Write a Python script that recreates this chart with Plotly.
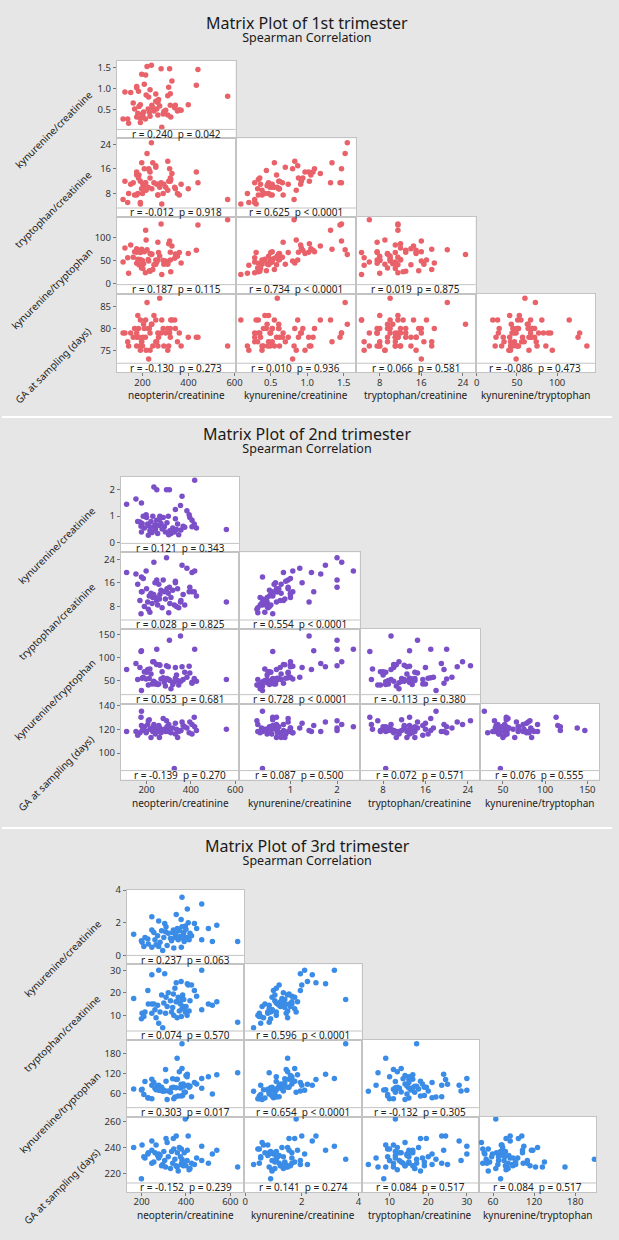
import plotly.graph_objects as go

W, H = 619, 1240
FONT = "Noto Sans"

# ---------------- data ----------------
row_titles = ["kynurenine/creatinine", "tryptophan/creatinine",
              "kynurenine/tryptophan", "GA at sampling (days)"]
col_titles = ["neopterin/creatinine", "kynurenine/creatinine",
              "tryptophan/creatinine", "kynurenine/tryptophan"]

# 1st trimester
t1_neo = [124, 149, 175, 183, 220, 239, 197, 214, 208, 175,
          258, 233, 281, 318, 328, 314, 310, 321, 441, 434,
          570, 116, 136, 160, 166, 180, 191, 191, 191, 200,
          202, 225, 227, 233, 241, 250, 258, 267, 275, 284,
          293, 301, 310, 321, 343, 352, 368, 399, 323, 175,
          213, 267, 216, 245, 205, 185, 290, 262, 340, 196,
          270, 230, 140, 360]
t1_kyn = [0.92, 0.91, 1.02, 0.94, 1.52, 1.55, 1.34, 1.32, 1.10, 1.05,
          0.87, 0.97, 1.47, 1.47, 1.18, 1.03, 0.83, 0.88, 1.45, 1.08,
          0.82, 0.28, 0.28, 0.66, 0.52, 0.42, 0.62, 0.30, 0.20, 0.40,
          0.36, 0.52, 0.80, 0.35, 0.61, 0.47, 0.70, 0.38, 0.59, 0.09,
          0.46, 0.49, 0.38, 0.61, 0.61, 0.47, 0.49, 0.62, 0.33, 0.33,
          0.28, 0.67, 0.85, 0.55, 0.45, 0.58, 0.40, 0.52, 0.55, 0.32,
          0.74, 0.44, 0.18, 0.50]
t1_trp = [12, 11, 15, 13, 21, 24.5, 18, 11.5, 16, 14,
          17, 15, 11.5, 16, 14.5, 12, 18.5, 13, 11.5, 15,
          6, 6, 5, 11.5, 7.5, 8, 12, 4.5, 5, 8,
          11, 10, 16, 13, 9.5, 11.5, 16.5, 7.5, 10, 4.5,
          11, 10, 9, 12, 9.5, 8, 11, 9.5, 12.5, 7.5,
          11.5, 7.5, 9, 18, 10.5, 14, 8, 11, 10, 9.5,
          11, 15.5, 8, 7.5]
t1_kt = [77, 83, 68, 72, 73, 63, 74, 115, 69, 75,
         51, 65, 128, 92, 81, 86, 45, 68, 126, 72,
         137, 47, 56, 57, 69, 53, 52, 67, 40, 50,
         33, 52, 49, 27, 64, 41, 42, 51, 60, 20,
         42, 49, 42, 51, 64, 59, 45, 65, 26, 44,
         24, 89, 94, 31, 43, 41, 50, 47, 55, 34,
         67, 28, 23, 67]
t1_ga = [79, 79, 78, 80, 86, 81, 77, 82, 80, 76,
         82, 75, 79, 79, 82, 76, 80, 78, 78, 78,
         76, 79, 77, 78, 80, 83, 76, 82, 75, 76,
         78, 80, 73, 79, 81, 83, 77, 76, 87, 82,
         76, 79, 75, 80, 80, 77, 76, 78, 82, 79,
         78, 79, 75, 76, 81, 78, 80, 77, 82, 77,
         78, 80, 76, 79]

# 2nd trimester
t2_neo = [417, 233, 246, 290, 303, 360, 152, 177, 110, 353,
          330, 382, 392, 405, 405, 560, 325, 170, 180, 190,
          177, 200, 205, 212, 215, 220, 225, 228, 232, 238,
          240, 245, 250, 255, 260, 265, 270, 275, 280, 285,
          292, 298, 305, 310, 318, 330, 335, 340, 345, 355,
          365, 372, 395, 415, 425, 185, 160, 175, 208, 300,
          258, 198]
t2_kyn = [2.35, 2.10, 2.00, 2.00, 2.00, 1.75, 1.65, 1.50, 1.45, 1.40,
          1.25, 1.20, 1.05, 0.85, 0.60, 0.50, 0.40, 0.78, 0.72, 0.55,
          0.40, 0.95, 0.70, 0.62, 0.45, 0.80, 0.38, 1.00, 0.58, 0.68,
          0.50, 0.85, 0.35, 0.65, 1.00, 0.72, 0.52, 0.95, 0.60, 0.40,
          0.75, 1.00, 0.45, 0.35, 0.55, 0.90, 0.50, 0.70, 0.30, 0.48,
          0.62, 0.58, 0.95, 0.70, 0.55, 1.00, 0.80, 0.62, 0.28, 0.30,
          0.88, 1.05]
t2_trp = [20, 23, 17, 24.5, 14.5, 22, 19, 13, 19.5, 9.5,
          16, 21, 13, 19.5, 13, 9.5, 8.5, 10, 13, 8,
          18, 14, 9.5, 11.5, 6, 12.5, 9, 11, 12, 16,
          11, 10, 8.5, 15.5, 12, 13.5, 7.5, 17, 13, 10.5,
          14, 12.5, 9, 11, 13.5, 16.5, 8, 14, 7.5, 10,
          12, 8.5, 14.5, 13, 11.5, 17.5, 15.5, 5.5, 7, 5.8,
          10.5, 20]
t2_kt = [118, 91, 118, 82, 138, 80, 87, 115, 74, 147,
         78, 57, 81, 44, 46, 52, 47, 78, 55, 69,
         28, 68, 74, 54, 75, 64, 42, 91, 48, 42,
         45, 85, 41, 42, 83, 53, 69, 56, 46, 38,
         54, 80, 50, 32, 41, 55, 62, 50, 40, 48,
         52, 68, 66, 54, 48, 57, 52, 113, 40, 52,
         84, 53]
t2_ga = [122, 124, 119, 127, 121, 126, 118, 123, 118, 119,
         125, 121, 117, 124, 116, 120, 87, 117, 119, 122,
         135, 118, 124, 128, 120, 113, 121, 118, 122, 120,
         116, 119, 118, 123, 121, 117, 119, 129, 120, 118,
         122, 118, 119, 117, 121, 116, 120, 113, 118, 119,
         123, 122, 126, 130, 119, 121, 115, 130, 127, 124,
         113, 117]

# 3rd trimester
t3_neo = [382, 471, 406, 356, 246, 277, 304, 378, 410, 164,
          199, 202, 228, 246, 277, 295, 246, 272, 308, 343,
          361, 382, 397, 388, 414, 379, 448, 471, 501, 519,
          539, 633, 320, 330, 335, 340, 350, 355, 365, 370,
          375, 385, 390, 392, 400, 405, 418, 425, 300, 290,
          283, 260, 265, 255, 315, 345, 230, 215, 438, 360,
          310, 210]
t3_kyn = [3.55, 3.15, 2.84, 2.50, 2.37, 2.10, 1.95, 2.20, 2.00, 1.30,
          0.90, 0.80, 1.00, 0.50, 0.55, 0.30, 1.55, 1.20, 1.45, 1.55,
          1.65, 1.75, 1.80, 1.25, 0.95, 0.50, 1.65, 0.95, 1.65, 0.85,
          1.85, 0.85, 1.35, 1.05, 0.90, 1.40, 1.10, 1.25, 0.95, 1.50,
          1.15, 1.05, 1.40, 0.85, 1.60, 1.10, 1.35, 1.20, 1.10, 1.50,
          0.80, 0.95, 0.65, 1.40, 0.60, 0.45, 0.70, 1.10, 1.95, 1.50,
          1.75, 0.55]
t3_trp = [17, 30, 24, 24.5, 28, 30, 28.5, 25, 23.5, 17.5,
          8.5, 11, 21, 11, 6.5, 4.5, 15, 14.5, 11, 19.5,
          16, 13, 11.5, 14, 12, 9.5, 18.5, 12.5, 15, 14.5,
          16, 7, 20, 16.5, 11.5, 13.5, 22, 16, 18, 12,
          15, 19, 17, 13, 14, 10, 16.5, 23.5, 15.5, 19,
          11.5, 12.5, 9, 15, 14, 10, 15, 11.5, 21, 9,
          18, 9.5]
t3_kt = [208, 105, 118, 102, 85, 70, 68, 88, 85, 74,
         71, 73, 48, 45, 85, 67, 103, 83, 132, 79,
         103, 135, 64, 89, 79, 53, 89, 76, 110, 59,
         116, 122, 68, 64, 78, 104, 50, 78, 53, 125,
         77, 55, 82, 65, 114, 110, 82, 51, 71, 79,
         70, 76, 72, 93, 43, 45, 47, 96, 93, 165,
         97, 58]
t3_ga = [231, 241, 238, 249, 245, 235, 230, 227, 249, 240,
         216, 242, 235, 228, 232, 227, 238, 234, 225, 247,
         236, 229, 262, 226, 223, 239, 232, 230, 228, 235,
         238, 225, 233, 224, 237, 228, 231, 226, 222, 240,
         233, 229, 228, 236, 226, 230, 224, 228, 237, 226,
         234, 236, 242, 229, 244, 239, 236, 232, 227, 225,
         247, 233]

stats_t1 = [["r = 0.240  p = 0.042"],
            ["r = -0.012  p = 0.918", "r = 0.625  p < 0.0001"],
            ["r = 0.187  p = 0.115", "r = 0.734  p < 0.0001", "r = 0.019  p = 0.875"],
            ["r = -0.130  p = 0.273", "r = 0.010  p = 0.936", "r = 0.066  p = 0.581",
             "r = -0.086  p = 0.473"]]
stats_t2 = [["r = 0.121  p = 0.343"],
            ["r = 0.028  p = 0.825", "r = 0.554  p < 0.0001"],
            ["r = 0.053  p = 0.681", "r = 0.728  p < 0.0001", "r = -0.113  p = 0.380"],
            ["r = -0.139  p = 0.270", "r = 0.087  p = 0.500", "r = 0.072  p = 0.571",
             "r = 0.076  p = 0.555"]]
stats_t3 = [["r = 0.237  p = 0.063"],
            ["r = 0.074  p = 0.570", "r = 0.596  p < 0.0001"],
            ["r = 0.303  p = 0.017", "r = 0.654  p < 0.0001", "r = -0.132  p = 0.305"],
            ["r = -0.152  p = 0.239", "r = 0.141  p = 0.274", "r = 0.084  p = 0.517",
             "r = 0.084  p = 0.517"]]

# tick values / labels
t1_xticks = [[200, 400, 600], [0.5, 1.0, 1.5], [8, 16, 24], [0, 50, 100]]
t1_xtext = [["200", "400", "600"], ["0.5", "1.0", "1.5"], ["8", "16", "24"], ["0", "50", "100"]]
t1_yticks = [[0.5, 1.0, 1.5], [8, 16, 24], [0, 50, 100], [75, 80, 85]]
t1_ytext = [["0.5", "1.0", "1.5"], ["8", "16", "24"], ["0", "50", "100"], ["75", "80", "85"]]

t2_xticks = [[200, 400, 600], [1, 2], [8, 16, 24], [50, 100, 150]]
t2_xtext = [["200", "400", "600"], ["1", "2"], ["8", "16", "24"], ["50", "100", "150"]]
t2_yticks = [[0, 1, 2], [8, 16, 24], [50, 100, 150], [100, 120, 140]]
t2_ytext = [["0", "1", "2"], ["8", "16", "24"], ["50", "100", "150"], ["100", "120", "140"]]

t3_xticks = [[200, 400, 600], [0, 2, 4], [10, 20, 30], [60, 120, 180]]
t3_xtext = [["200", "400", "600"], ["0", "2", "4"], ["10", "20", "30"], ["60", "120", "180"]]
t3_yticks = [[0, 2, 4], [10, 20, 30], [60, 120, 180], [220, 240, 260]]
t3_ytext = [["0", "2", "4"], ["10", "20", "30"], ["60", "120", "180"], ["220", "240", "260"]]

# ---------------- layout geometry (pixels) ----------------
panels = [
    dict(title="Matrix Plot of 1st trimester", color="#E9626A",
         data=(t1_neo, t1_kyn, t1_trp, t1_kt, t1_ga), stats=stats_t1,
         xt=t1_xticks, xtt=t1_xtext, yt=t1_yticks, ytt=t1_ytext,
         title_base=23.3, cols=[116.6, 237, 359, 480.5, 601.6],
         rows=[55, 133, 212, 289, 368],
         xcal=[((200, 142.5), (600, 236)), ((0.5, 272.7), (1.5, 346.7)),
               ((8, 383.3), (24, 467.7)), ((0, 481.7), (100, 563.3))],
         ycal=[((1.5, 61.7), (0.5, 104.3)), ((24, 139), (8, 188.3)),
               ((100, 232.3), (0, 279.3)), ((85, 302.3), (75, 346))],
         xtitle_y=390.5, ylab=[(53, 124), (52, 204), (50, 284), (52, 361)]),
    dict(title="Matrix Plot of 2nd trimester", color="#7B4FC8",
         data=(t2_neo, t2_kyn, t2_trp, t2_kt, t2_ga), stats=stats_t2,
         xt=t2_xticks, xtt=t2_xtext, yt=t2_yticks, ytt=t2_ytext,
         title_base=436.7, cols=[120.5, 241, 363, 485, 606],
         rows=[473, 549, 626, 701, 777.3],
         xcal=[((200, 146.7), (600, 236.7)), ((1, 292.7), (2, 340)),
               ((8, 386.7), (24, 472.7)), ((50, 508.3), (150, 594))],
         ycal=[((2, 486), (0, 539.3)), ((24, 556), (8, 603.3)),
               ((150, 631.7), (50, 677.7)), ((140, 702.7), (100, 750.7))],
         xtitle_y=800.5, ylab=[(56, 542), (56, 618), (53, 697), (55, 771)]),
    dict(title="Matrix Plot of 3rd trimester", color="#3A8CE6",
         data=(t3_neo, t3_kyn, t3_trp, t3_kt, t3_ga), stats=stats_t3,
         xt=t3_xticks, xtt=t3_xtext, yt=t3_yticks, ytt=t3_ytext,
         title_base=850.7, cols=[126.6, 246, 365, 484, 603],
         rows=[888, 963, 1039, 1116, 1191.7],
         xcal=[((200, 141.7), (600, 231.7)), ((0, 246.7), (4, 361.7)),
               ((10, 393.3), (30, 471.7)), ((60, 498.3), (180, 581.7))],
         ycal=[((4, 888.3), (0, 954)), ((30, 969), (10, 1014.3)),
               ((180, 1052.3), (60, 1093)), ((260, 1121), (220, 1173.3))],
         xtitle_y=1214.5, ylab=[(62, 957), (61, 1032), (58, 1112), (61, 1186)]),
]
STRIP = 9
BORDER = "#c3c3c3"


def fx(p):
    return p / W


def fy(p):
    return 1 - p / H


def lin(cal, p):
    (v1, p1), (v2, p2) = cal
    return v1 + (p - p1) * (v2 - v1) / (p2 - p1)


fig = go.Figure()
layout = dict(width=W, height=H, margin=dict(l=0, r=0, t=0, b=0),
              paper_bgcolor="#e6e6e6", plot_bgcolor="white", showlegend=False,
              font=dict(family=FONT, color="#2a2a2a"), shapes=[], annotations=[])


def note(text, x, y, size, color="#222222", angle=0):
    layout["annotations"].append(dict(text=text, x=x, y=y, xref="paper", yref="paper",
                                      showarrow=False, borderpad=0, textangle=angle,
                                      font=dict(size=size, color=color),
                                      xanchor="center", yanchor="middle"))


# separators between panels
for sy in (413, 826):
    layout["shapes"].append(dict(type="rect", xref="paper", yref="paper", x0=0, x1=1,
                                 y0=fy(sy + 1), y1=fy(sy - 1), fillcolor="white",
                                 line=dict(width=0), layer="below"))

k = 0
for P in panels:
    neo, kyn, trp, kt, ga = P["data"]
    xvars = [neo, kyn, trp, kt]
    yvars = [kyn, trp, kt, ga]
    cols, rows = P["cols"], P["rows"]
    # title + subtitle as one two-line text (line gap set by the base size)
    note('<span style="font-size:16px">' + P["title"] + '</span><br>'
         '<span style="font-size:12.5px">Spearman Correlation</span>',
         0.5, fy(P["title_base"] - 0.4), 9.8, "#1a1a1a")
    for r in range(4):
        for c in range(r + 1):
            k += 1
            xa = "x" if k == 1 else f"x{k}"
            ya = "y" if k == 1 else f"y{k}"
            fig.add_trace(go.Scatter(x=xvars[c], y=yvars[r], mode="markers",
                                     marker=dict(symbol="circle", size=5.5, color=P["color"]),
                                     xaxis=xa, yaxis=ya, hoverinfo="skip"))
            L, R = cols[c], cols[c + 1]
            T, B = rows[r], rows[r + 1]
            xr = [lin(P["xcal"][c], L), lin(P["xcal"][c], R)]
            yr = [lin(P["ycal"][r], B), lin(P["ycal"][r], T)]
            common = dict(showgrid=False, zeroline=False, showline=True, mirror=True,
                          linecolor=BORDER, linewidth=1, ticklen=3, tickcolor="#7a7a7a",
                          tickfont=dict(size=9.5, color="#333333"), fixedrange=True)
            layout["xaxis" if k == 1 else f"xaxis{k}"] = dict(
                common, domain=[fx(L), fx(R)], range=xr, anchor=ya,
                ticks="outside" if r == 3 else "", showticklabels=(r == 3),
                ticklabelstandoff=-2,
                tickmode="array", tickvals=P["xt"][c], ticktext=P["xtt"][c])
            layout["yaxis" if k == 1 else f"yaxis{k}"] = dict(
                common, domain=[fy(B), fy(T)], range=yr, anchor=xa,
                ticks="outside" if c == 0 else "", showticklabels=(c == 0),
                tickmode="array", tickvals=P["yt"][r], ticktext=P["ytt"][r])
            # strip with correlation text
            layout["shapes"].append(dict(type="line", xref="paper", yref="paper",
                                         x0=fx(L), x1=fx(R), y0=fy(B - STRIP), y1=fy(B - STRIP),
                                         line=dict(color=BORDER, width=1)))
            note(P["stats"][r][c], fx((L + R) / 2), fy(B - STRIP / 2), 10)
    for c in range(4):
        note(col_titles[c], fx((cols[c] + cols[c + 1]) / 2), fy(P["xtitle_y"]), 10)
    for r in range(4):
        lx, ly = P["ylab"][r]
        note(row_titles[r], fx(lx), fy(ly), 10, angle=-45)

fig.update_layout(**layout)
fig.write_html("out.html")
